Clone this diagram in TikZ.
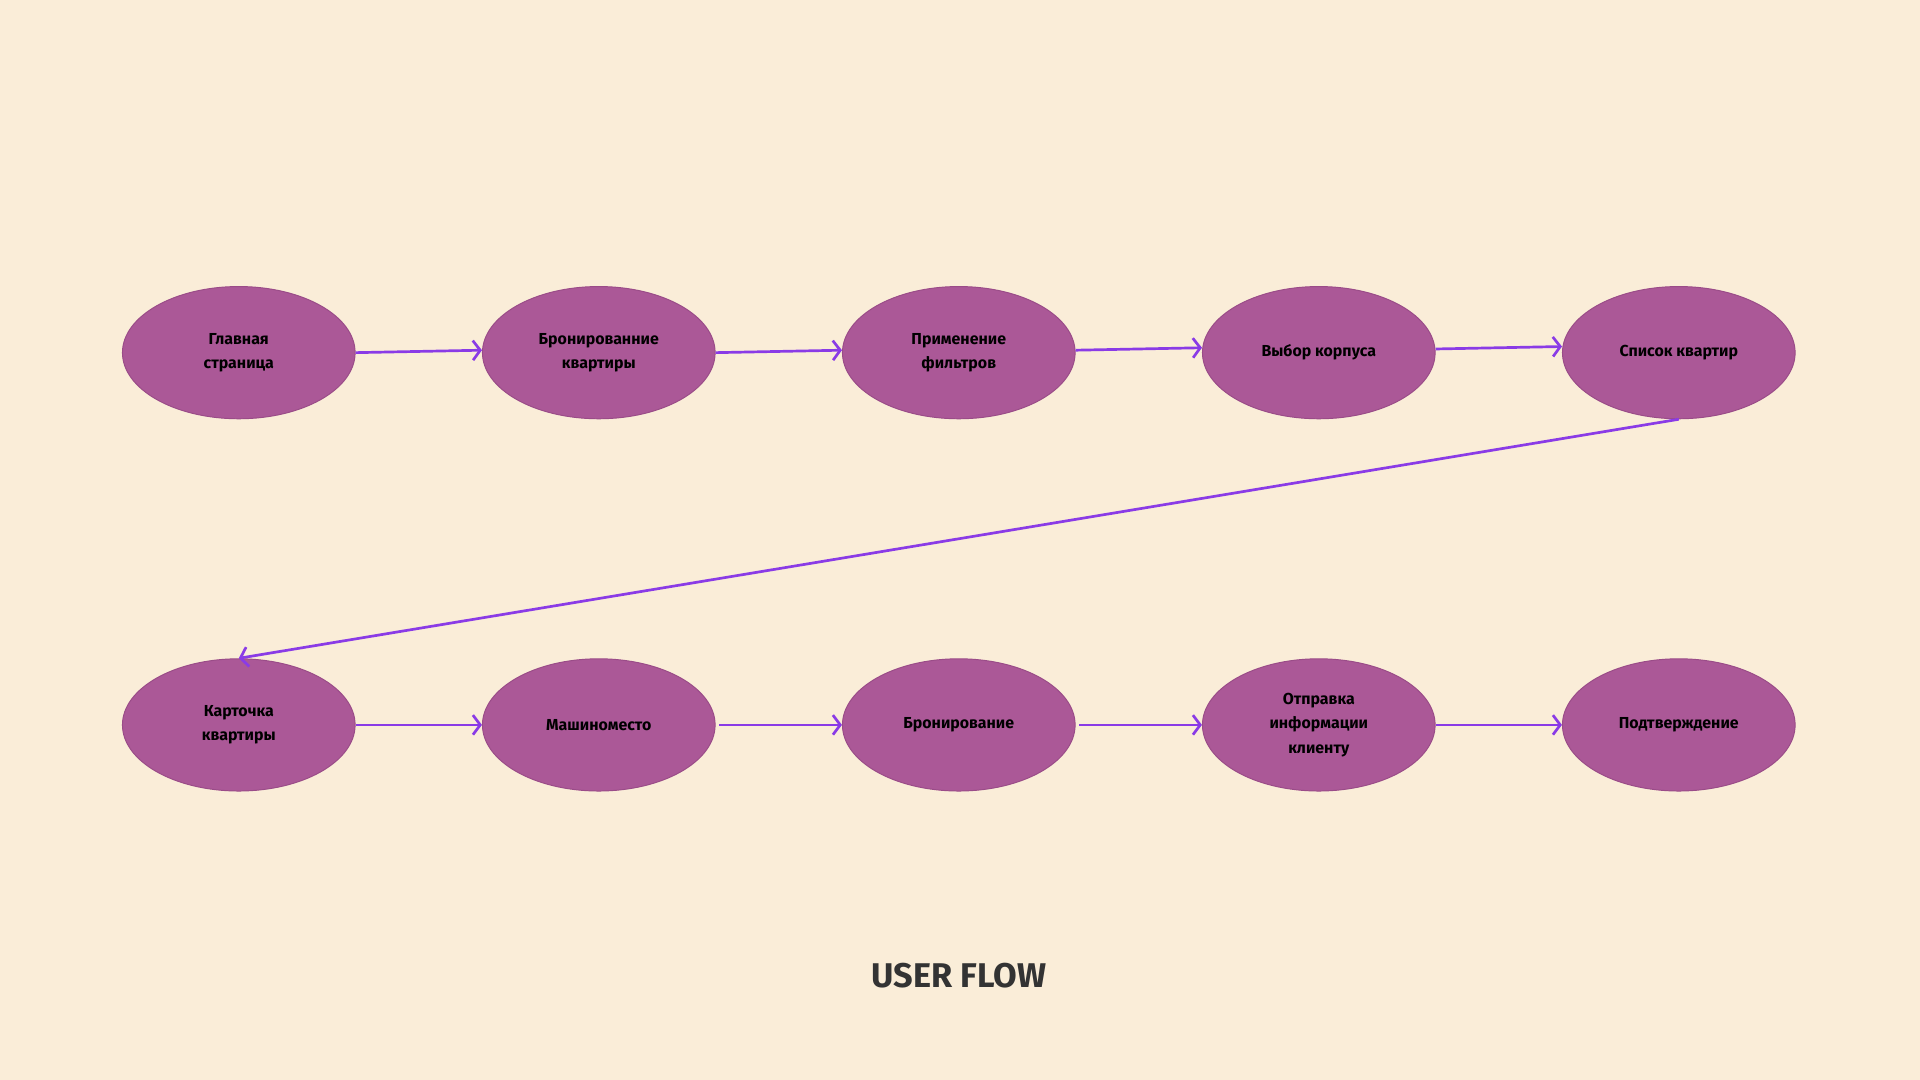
\documentclass[tikz,border=0pt]{standalone}
\usepackage{fontspec}
\setmainfont{Fira Sans}
\usetikzlibrary{shapes.geometric,arrows.meta}
\definecolor{bg}{HTML}{FAEDD8}
\definecolor{nf}{HTML}{AB5897}
\definecolor{nd}{HTML}{9A4C88}
\definecolor{ar}{HTML}{8A3BE6}
\begin{document}
\begin{tikzpicture}[x=1pt,y=-1pt,
  st/.style={ellipse,fill=nf,draw=nd,line width=0.8pt,minimum width=190pt,minimum height=108pt,inner sep=0pt,align=center,font=\fontsize{13}{20}\selectfont\bfseries,text=black},
  ed/.style={draw=ar,line width=2.2pt,-{Straight Barb[length=6pt,width=16pt,line width=2.2pt]}}]
\fill[bg] (0,0) rectangle (1568,882);
\useasboundingbox (0,0) rectangle (1568,882);
\node[st] (a) at (195,288) {Главная\\страница};
\node[st] (b) at (489,288) {Бронированние\\квартиры};
\node[st] (c) at (783,288) {Применение\\фильтров};
\node[st] (d) at (1077,288) {Выбор корпуса};
\node[st] (e) at (1371,288) {Список квартир};
\node[st] (f) at (195,592) {Карточка\\квартиры};
\node[st] (g) at (489,592) {Машиноместо};
\node[st] (h) at (783,592) {Бронирование};
\node[st] (i) at (1077,592) {Отправка\\информации\\клиенту};
\node[st] (j) at (1371,592) {Подтверждение};
\draw[ed] (a.east) -- ([yshift=2pt]b.west);
\draw[ed] (b.east) -- ([yshift=2pt]c.west);
\draw[ed] ([yshift=2pt]c.east) -- ([yshift=4pt]d.west);
\draw[ed] ([yshift=3pt]d.east) -- ([yshift=5pt]e.west);
\draw[ed] (e.south) -- (f.north);
\draw[ed] (f.east) -- (g.west);
\draw[ed] ([xshift=3pt]g.east) -- (h.west);
\draw[ed] ([xshift=3pt]h.east) -- (i.west);
\draw[ed] (i.east) -- (j.west);
\node[font=\fontsize{28}{34}\selectfont\bfseries,text=black!80] (t) at (783,797) {USER FLOW};
\end{tikzpicture}
\end{document}
